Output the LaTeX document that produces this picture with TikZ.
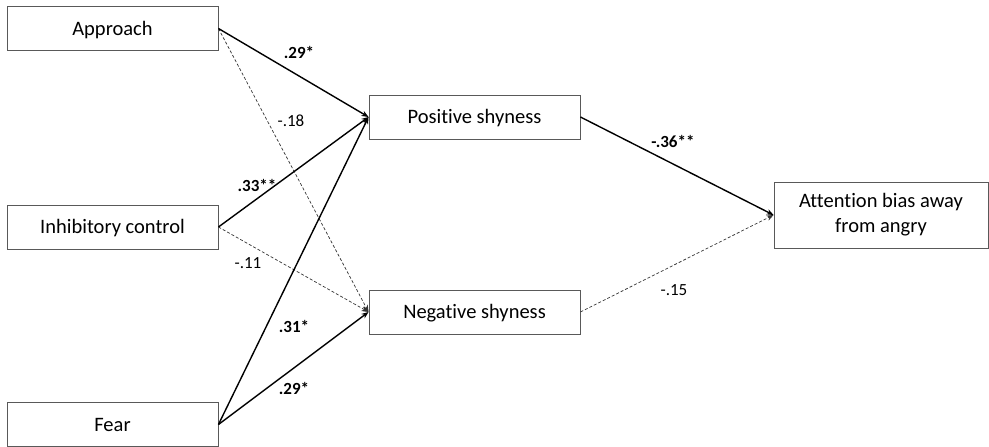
\documentclass[tikz,border=0pt]{standalone}
\usepackage{fontspec}
\setmainfont{Carlito}[Ligatures=NoCommon]
\usetikzlibrary{arrows.meta}
\begin{document}
\begin{tikzpicture}[x=1pt,y=-1pt,
  varbox/.style={draw=black!65,line width=0.9pt,fill=white,minimum width=211pt,minimum height=44pt,inner sep=0pt,font=\fontsize{20.5}{25}\selectfont},
  onebox/.style={varbox,text height=13pt,text depth=0pt},
  sig/.style={line width=1.4pt,draw=black,-{Stealth[length=7pt,width=5.5pt]}},
  nsig/.style={line width=0.7pt,draw=black!80,dash pattern=on 3pt off 2pt,-{Stealth[length=7pt,width=5.5pt]}},
  lab/.style={font=\fontsize{17}{18}\selectfont,inner sep=0pt},
  blab/.style={font=\fontsize{17}{18}\selectfont\bfseries,inner sep=0pt}]
\useasboundingbox (0,0) rectangle (989,447);
\fill[white] (0,0) rectangle (989,447);
\node[onebox] (app) at (112.5,28.5) {Approach};
\node[onebox] (inh) at (112.5,227) {Inhibitory control};
\node[onebox] (fear) at (112.5,424.5) {Fear};
\node[onebox] (pos) at (474.5,117) {Positive shyness};
\node[onebox] (neg) at (474.5,312) {Negative shyness};
\node[varbox,align=center,minimum width=214pt,minimum height=66pt] (att) at (881,215) {Attention bias away\\from angry};
\draw[nsig] (app.east) -- (neg.west);
\draw[nsig] (inh.east) -- (neg.west);
\draw[nsig] (neg.east) -- (att.west);
\draw[sig] (app.east) -- (pos.west);
\draw[sig] (inh.east) -- (pos.west);
\draw[sig] (fear.east) -- (pos.west);
\draw[sig] (fear.east) -- (neg.west);
\draw[sig] (pos.east) -- (att.west);
\node[blab] (l1) at (299,52) {.29*};
\node[lab] (l2) at (291,121) {-.18};
\node[blab] (l3) at (257,185) {.33**};
\node[lab] (l4) at (248,263) {-.11};
\node[blab] (l5) at (294,326) {.31*};
\node[blab] (l6) at (294,388) {.29*};
\node[blab] (l7) at (673,141) {-.36**};
\node[lab] (l8) at (674,290) {-.15};
\end{tikzpicture}
\end{document}
